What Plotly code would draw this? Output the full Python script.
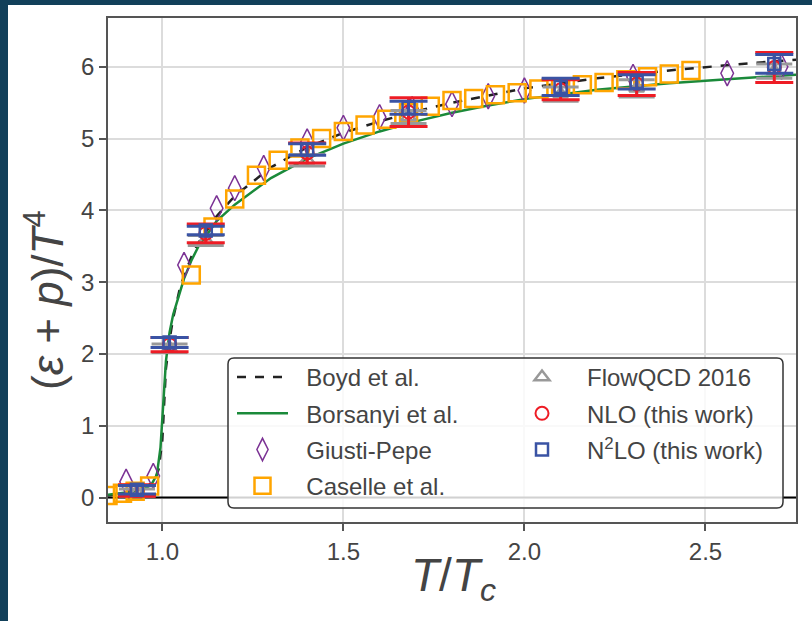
import plotly.graph_objects as go

# ---------------- data ----------------
boyd_T = [0.85, 0.90, 0.95, 0.98, 0.99, 1.00, 1.005, 1.01, 1.02, 1.03, 1.05, 1.08, 1.10, 1.15,
          1.20, 1.30, 1.40, 1.50, 1.60, 1.70, 1.80, 1.90, 2.00, 2.20, 2.40, 2.60, 2.75]
boyd_v = [0.03, 0.06, 0.12, 0.25, 0.40, 0.80, 1.30, 1.80, 2.20, 2.50, 2.95, 3.35, 3.55, 3.92,
          4.20, 4.60, 4.88, 5.08, 5.24, 5.38, 5.50, 5.60, 5.70, 5.84, 5.95, 6.04, 6.10]

bors_T = [0.85, 0.90, 0.95, 0.97, 0.985, 0.995, 1.00, 1.005, 1.01, 1.02, 1.03, 1.045, 1.06, 1.08,
          1.10, 1.15, 1.20, 1.30, 1.40, 1.50, 1.60, 1.70, 1.80, 1.90, 2.00, 2.20, 2.40, 2.60, 2.75]
bors_v = [0.04, 0.07, 0.12, 0.18, 0.32, 0.70, 1.10, 1.50, 1.90, 2.30, 2.55, 2.80, 3.05, 3.30,
          3.50, 3.85, 4.08, 4.45, 4.72, 4.93, 5.10, 5.24, 5.36, 5.46, 5.55, 5.68, 5.77, 5.84, 5.89]

gp_T = [0.90, 0.975, 1.06, 1.15, 1.20, 1.28, 1.40, 1.50, 1.60, 1.69, 1.80, 1.90, 2.00, 2.30, 2.56, 2.71]
gp_v = [0.22, 0.30, 3.24, 4.03, 4.31, 4.59, 4.96, 5.15, 5.30, 5.41, 5.48, 5.59, 5.67, 5.86, 5.91, 6.00]

cs_T = [0.85, 0.89, 0.925, 0.965, 1.08, 1.14, 1.20, 1.26, 1.32, 1.38, 1.44, 1.50, 1.56, 1.62,
        1.68, 1.74, 1.80, 1.86, 1.92, 1.98, 2.04, 2.10, 2.16, 2.22, 2.28, 2.34, 2.40, 2.46]
cs_v = [0.03, 0.06, 0.09, 0.16, 3.10, 3.77, 4.16, 4.49, 4.70, 4.87, 5.00, 5.10, 5.19, 5.27,
        5.36, 5.45, 5.53, 5.56, 5.61, 5.64, 5.69, 5.72, 5.75, 5.78, 5.82, 5.86, 5.90, 5.95]

lat_T = [0.93, 1.02, 1.12, 1.40, 1.68, 2.10, 2.31, 2.69]
flow_v = [0.07, 2.08, 3.58, 4.70, 5.30, 5.62, 5.70, 5.94]
flow_err = [0.05, 0.06, 0.07, 0.08, 0.09, 0.10, 0.12, 0.10]
nlo_v = [0.10, 2.13, 3.68, 4.80, 5.37, 5.68, 5.76, 5.99]
nlo_err = [0.08, 0.10, 0.13, 0.14, 0.20, 0.14, 0.16, 0.21]
n2lo_v = [0.11, 2.16, 3.72, 4.85, 5.43, 5.72, 5.79, 6.04]
n2lo_err = [0.06, 0.07, 0.06, 0.08, 0.09, 0.12, 0.10, 0.13]

x_ticks = [1.0, 1.5, 2.0, 2.5]
y_ticks = [0, 1, 2, 3, 4, 5, 6]
x_range = [0.85, 2.75]

# ---------------- figure ----------------
W, H = 812, 621
L, R, T, B = 108, 16, 18, 99
pw, ph = W - L - R, H - T - B

def px(x):
    return (x - L) / pw

def py(y):
    return 1 - (y - T) / ph

NB2 = "\u00a0\u00a0"
NB3 = "\u00a0\u00a0\u00a0"

fig = go.Figure()

# zero line
fig.add_trace(go.Scatter(x=x_range, y=[0, 0], mode="lines", showlegend=False,
                         line=dict(color="black", width=2), hoverinfo="skip"))

fig.add_trace(go.Scatter(x=boyd_T, y=boyd_v, mode="lines", name=NB2 + "Boyd et al.",
                         line=dict(color="#222222", width=2.5, dash="dash"),
                         legend="legend", legendgroup="a"))
fig.add_trace(go.Scatter(x=bors_T, y=bors_v, mode="lines", name=NB2 + "Borsanyi et al.",
                         line=dict(color="#1a8a3a", width=2.5),
                         legend="legend", legendgroup="b"))
fig.add_trace(go.Scatter(x=gp_T, y=gp_v, mode="markers", name=NB2 + "Giusti-Pepe",
                         marker=dict(symbol="diamond-tall-open", size=18, color="#7b3294",
                                     line=dict(width=1.5, color="#7b3294")),
                         legend="legend", legendgroup="c"))
fig.add_trace(go.Scatter(x=cs_T, y=cs_v, mode="markers", name=NB2 + "Caselle et al.",
                         marker=dict(symbol="square-open", size=17, color="#ffa500",
                                     line=dict(width=2.5, color="#ffa500")),
                         legend="legend", legendgroup="d"))

fig.add_trace(go.Scatter(x=lat_T, y=flow_v, mode="markers", name=NB3 + "FlowQCD 2016",
                         marker=dict(symbol="triangle-up-open", size=13, color="#999999",
                                     line=dict(width=2.5, color="#999999")),
                         error_y=dict(type="data", array=flow_err, color="#999999",
                                      thickness=3, width=18),
                         legend="legend2", legendgroup="e"))
fig.add_trace(go.Scatter(x=lat_T, y=nlo_v, mode="markers", name=NB3 + "NLO (this work)",
                         marker=dict(symbol="circle-open", size=13, color="#ee1c25",
                                     line=dict(width=2, color="#ee1c25")),
                         error_y=dict(type="data", array=nlo_err, color="#ee1c25",
                                      thickness=3, width=19),
                         legend="legend2", legendgroup="f"))
fig.add_trace(go.Scatter(x=lat_T, y=n2lo_v, mode="markers",
                         name=NB3 + "N<sup>2</sup>LO (this work)",
                         marker=dict(symbol="square-open", size=12, color="#3a53a4",
                                     line=dict(width=2.5, color="#3a53a4")),
                         error_y=dict(type="data", array=n2lo_err, color="#3a53a4",
                                      thickness=3, width=19),
                         legend="legend2", legendgroup="g"))

font_main = "Liberation Sans, Arial, sans-serif"

# legend box (rounded rectangle)
bx0, bx1, by0, by1 = px(228), px(783), py(508), py(358)
rx, ry = 6 / pw, 6 / ph
path = (f"M{bx0+rx},{by1} L{bx1-rx},{by1} Q{bx1},{by1} {bx1},{by1-ry} "
        f"L{bx1},{by0+ry} Q{bx1},{by0} {bx1-rx},{by0} L{bx0+rx},{by0} "
        f"Q{bx0},{by0} {bx0},{by0+ry} L{bx0},{by1-ry} Q{bx0},{by1} {bx0+rx},{by1} Z")

dark = "#12405a"
shapes = [
    dict(type="path", xref="paper", yref="paper", path=path,
         fillcolor="rgba(255,255,255,0.82)", line=dict(color="#333333", width=1.5),
         layer="above"),
    # dark slide border strips
    dict(type="rect", xref="paper", yref="paper", x0=px(0), x1=px(8), y0=py(H), y1=py(0),
         fillcolor=dark, line=dict(width=0), layer="above"),
    dict(type="rect", xref="paper", yref="paper", x0=px(0), x1=px(W), y0=py(5), y1=py(0),
         fillcolor=dark, line=dict(width=0), layer="above"),
]

annotations = [
    dict(text="<i>T</i>/<i>T</i><sub><i>c</i></sub>", xref="paper", yref="paper",
         x=px(453), y=py(578), showarrow=False, xanchor="center", yanchor="middle",
         font=dict(size=46, color="#444444", family=font_main)),
    dict(text="(<i>ε</i> + <i>p</i>)/<i>T</i><sup>4</sup>", xref="paper", yref="paper",
         x=px(44), y=py(300), showarrow=False, xanchor="center", yanchor="middle",
         textangle=-90, font=dict(size=44, color="#444444", family=font_main)),
]

axis_common = dict(showline=True, mirror=True, linecolor="#555555", linewidth=1.5,
                   showgrid=True, gridcolor="#dcdcdc", gridwidth=1.5,
                   ticks="outside", ticklen=7, tickwidth=1.5, tickcolor="#555555",
                   tickfont=dict(size=24, color="#444444", family=font_main),
                   zeroline=False)

fig.update_layout(
    width=W, height=H,
    margin=dict(l=L, r=R, t=T, b=B, pad=0),
    paper_bgcolor="white", plot_bgcolor="white",
    font=dict(family=font_main, color="#444444"),
    xaxis=dict(range=x_range, tickvals=x_ticks,
               ticktext=[f"{v:.1f}" for v in x_ticks], **axis_common),
    yaxis=dict(range=[-0.34, 6.68], tickvals=y_ticks,
               ticktext=[str(v) for v in y_ticks], **axis_common),
    shapes=shapes,
    annotations=annotations,
    legend=dict(x=px(232), y=py(355), xanchor="left", yanchor="top",
                bgcolor="rgba(0,0,0,0)", borderwidth=0, itemwidth=51,
                font=dict(size=24, color="#444444", family=font_main),
                tracegroupgap=2, traceorder="grouped"),
    legend2=dict(x=px(517), y=py(355), xanchor="left", yanchor="top",
                 bgcolor="rgba(0,0,0,0)", borderwidth=0, itemwidth=40,
                 font=dict(size=24, color="#444444", family=font_main),
                 tracegroupgap=2, traceorder="grouped"),
    showlegend=True,
)

fig.write_html("out.html")
